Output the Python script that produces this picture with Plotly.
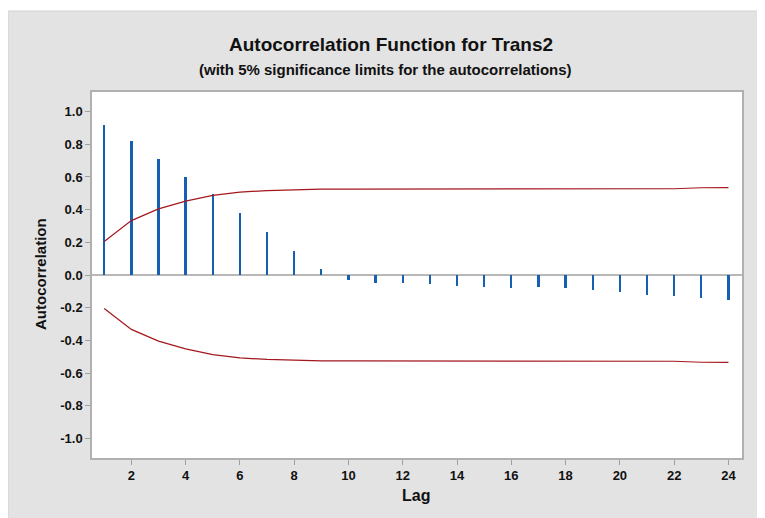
import plotly.graph_objects as go

lags = list(range(1, 25))
acf = [0.92, 0.822, 0.712, 0.598, 0.496, 0.38, 0.265, 0.145, 0.037,
       -0.029, -0.051, -0.051, -0.057, -0.07, -0.076, -0.08, -0.076,
       -0.082, -0.09, -0.106, -0.123, -0.129, -0.139, -0.151]
upper = [0.205, 0.333, 0.405, 0.452, 0.487, 0.507, 0.517, 0.522, 0.526,
         0.526, 0.526, 0.526, 0.527, 0.527, 0.527, 0.527, 0.527, 0.527,
         0.527, 0.527, 0.527, 0.528, 0.534, 0.535]
lower = [-u for u in upper]
x_ticks = list(range(2, 25, 2))
y_ticks = [-1.0, -0.8, -0.6, -0.4, -0.2, 0.0, 0.2, 0.4, 0.6, 0.8, 1.0]

W, H = 765, 518
OFF = 8  # page offset of the figure (body margin)
ML, MR, MT, MB = 92 - OFF, 31, 92 - OFF, 68
pw, ph = W - ML - MR, H - MT - MB

def px(x):
    return (x - OFF - ML) / pw

def py(y):
    return (H - MB - (y - OFF)) / ph

FONT = "Liberation Sans, Arial, sans-serif"

fig = go.Figure()
fig.add_trace(go.Bar(x=lags, y=acf, width=0.085, marker=dict(color="#1560b0", line=dict(width=0)),
                     showlegend=False))
fig.add_trace(go.Scatter(x=lags, y=upper, mode="lines", line=dict(color="#a3181c", width=1.2),
                         showlegend=False))
fig.add_trace(go.Scatter(x=lags, y=lower, mode="lines", line=dict(color="#a3181c", width=1.2),
                         showlegend=False))

fig.update_layout(
    width=W, height=H,
    margin=dict(l=ML, r=MR, t=MT, b=MB),
    paper_bgcolor="white", plot_bgcolor="white",
    font=dict(family=FONT, color="#111111"),
    bargap=0,
    shapes=[
        dict(type="rect", xref="paper", yref="paper", layer="below",
             x0=px(8), x1=px(790), y0=py(540), y1=py(11),
             fillcolor="#e3e3e3", line=dict(color="#d2d2d2", width=1)),
        dict(type="rect", xref="paper", yref="paper", layer="below",
             x0=0, x1=1, y0=0, y1=1, fillcolor="white", line=dict(width=0)),
    ],
    annotations=[
        dict(text="<b>Autocorrelation Function for Trans2</b>", xref="paper", yref="paper",
             x=px(391), y=py(45), showarrow=False, xanchor="center", yanchor="middle",
             font=dict(size=19, family=FONT, color="#111111")),
        dict(text="<b>(with 5% significance limits for the autocorrelations)</b>", xref="paper", yref="paper",
             x=px(385), y=py(70), showarrow=False, xanchor="center", yanchor="middle",
             font=dict(size=15, family=FONT, color="#111111")),
        dict(text="<b>Lag</b>", xref="paper", yref="paper",
             x=px(416), y=py(495), showarrow=False, xanchor="center", yanchor="middle",
             font=dict(size=16, family=FONT, color="#111111")),
        dict(text="<b>Autocorrelation</b>", xref="paper", yref="paper", textangle=-90,
             x=px(40), y=py(274), showarrow=False, xanchor="center", yanchor="middle",
             font=dict(size=15, family=FONT, color="#111111")),
    ],
)

fig.update_xaxes(range=[0.55, 24.5], tickvals=x_ticks, ticktext=[f"<b>{t}</b>" for t in x_ticks],
                 ticks="outside", ticklen=5, tickcolor="#a0a0a0", tickwidth=1,
                 showline=True, mirror=True, linecolor="#b0b0b0", linewidth=1.5,
                 showgrid=False, zeroline=False,
                 tickfont=dict(size=13, family=FONT, color="#111111"))
fig.update_yaxes(range=[-1.12, 1.12], tickvals=y_ticks, ticktext=[f"<b>{t:.1f}</b>" for t in y_ticks],
                 ticks="outside", ticklen=5, tickcolor="#a0a0a0", tickwidth=1,
                 showline=True, mirror=True, linecolor="#b0b0b0", linewidth=1.5,
                 showgrid=False, zeroline=True, zerolinecolor="#b8b8b8", zerolinewidth=1.5,
                 tickfont=dict(size=13, family=FONT, color="#111111"))

fig.write_html("out.html")
